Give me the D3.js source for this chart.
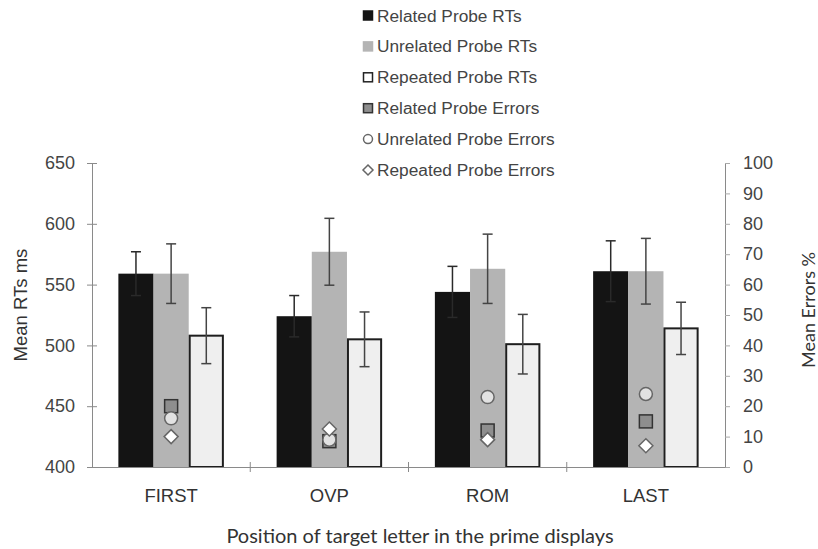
<!DOCTYPE html>
<html>
<head>
<meta charset="utf-8">
<script src="https://cdn.jsdelivr.net/npm/d3@7/dist/d3.min.js"></script>
<style>
  html, body { margin: 0; padding: 0; background: #fff; }
  svg { display: block; }
</style>
</head>
<body>
<svg id="chart" width="818" height="549"></svg>
<script>
// Mean reaction times (ms) with error bars, per target-letter position
const categories = ["FIRST", "OVP", "ROM", "LAST"];
const relatedRT = [559, 524, 544, 561];
const relatedRTErr = [18, 17, 21, 25];
const unrelatedRT = [559, 577, 563, 561];
const unrelatedRTErr = [24.5, 27.5, 28.5, 27];
const repeatedRT = [508, 505, 501, 514];
const repeatedRTErr = [23, 22.5, 24.5, 21.5];

// Mean error rates (%)
const relatedErrors = [20, 8.5, 12, 15];
const unrelatedErrors = [16, 9, 23, 24];
const repeatedErrors = [10, 12.5, 9, 7];

// Axis ticks
const rtTicks = [400, 450, 500, 550, 600, 650];
const errTicks = [0, 10, 20, 30, 40, 50, 60, 70, 80, 90, 100];

const legendLabels = [
  "Related Probe RTs", "Unrelated Probe RTs", "Repeated Probe RTs",
  "Related Probe Errors", "Unrelated Probe Errors", "Repeated Probe Errors"
];

const sans = "'Liberation Sans', Arial, sans-serif";
const humanist = "Lato, 'Open Sans', sans-serif";

const svg = d3.select("#chart");
const plotLeft = 92, plotRight = 725, plotTop = 163, plotBottom = 467;
const axisColor = "#8a8a8a";

const x = d3.scaleBand().domain(categories).range([plotLeft, plotRight]).padding(0);
const seriesKeys = ["related", "unrelated", "repeated"];
const xs = d3.scaleBand().domain(seriesKeys).range([0, x.bandwidth()])
  .paddingInner(0).paddingOuter(0.75);
const y = d3.scaleLinear().domain([400, 650]).range([plotBottom, plotTop]);
const yR = d3.scaleLinear().domain([0, 100]).range([plotBottom, plotTop]);

const rtSeries = [
  { key: "related", vals: relatedRT, errs: relatedRTErr, fill: "#141414" },
  { key: "unrelated", vals: unrelatedRT, errs: unrelatedRTErr, fill: "#b4b4b4" },
  { key: "repeated", vals: repeatedRT, errs: repeatedRTErr, fill: "#efefef", stroke: "#1e1e1e" }
];

// Bars
rtSeries.forEach(s => {
  const inset = s.stroke ? 1 : 0;
  svg.append("g").selectAll("rect").data(categories).join("rect")
    .attr("x", c => x(c) + xs(s.key) + inset)
    .attr("y", (c, i) => y(s.vals[i]))
    .attr("width", xs.bandwidth() - 2 * inset)
    .attr("height", (c, i) => plotBottom - y(s.vals[i]))
    .attr("fill", s.fill)
    .attr("stroke", s.stroke || "none")
    .attr("stroke-width", 2);
});

// Error bars
rtSeries.forEach(s => {
  const col = s.key === "related" ? "#2a2a2a" : "#444";
  const g = svg.append("g").attr("stroke", col).attr("stroke-width", 1.5);
  categories.forEach((c, i) => {
    const cx = x(c) + xs(s.key) + xs.bandwidth() / 2;
    const hi = y(s.vals[i] + s.errs[i]);
    const lo = y(s.vals[i] - s.errs[i]);
    g.append("line").attr("x1", cx).attr("x2", cx).attr("y1", hi).attr("y2", lo);
    g.append("line").attr("x1", cx - 5).attr("x2", cx + 5).attr("y1", hi).attr("y2", hi);
    g.append("line").attr("x1", cx - 5).attr("x2", cx + 5).attr("y1", lo).attr("y2", lo);
  });
});

// Left axis
const yAxis = d3.axisLeft(y).tickValues(rtTicks).tickSizeInner(5).tickSizeOuter(0).tickPadding(12);
const gy = svg.append("g").attr("transform", `translate(${plotLeft},0)`).call(yAxis);
gy.select(".domain").attr("stroke", axisColor);
gy.selectAll(".tick line").attr("stroke", axisColor).attr("x2", 5).attr("x1", -5);
gy.selectAll(".tick text").attr("font-size", 18).attr("fill", "#444").attr("font-family", sans);

// Right axis
const yAxisR = d3.axisRight(yR).tickValues(errTicks).tickSizeInner(5).tickSizeOuter(0).tickPadding(13);
const gyr = svg.append("g").attr("transform", `translate(${plotRight},0)`).call(yAxisR);
gyr.select(".domain").attr("stroke", axisColor);
gyr.selectAll(".tick line").attr("stroke", "#aaa");
gyr.selectAll(".tick text").attr("font-size", 18).attr("fill", "#444").attr("font-family", sans);

// Category axis
const xAxis = d3.axisBottom(x).tickSize(0).tickPadding(22);
const gx = svg.append("g").attr("transform", `translate(0,${plotBottom})`).call(xAxis);
gx.select(".domain").attr("stroke", axisColor);
gx.selectAll(".tick text").attr("font-size", 18.5).attr("fill", "#333").attr("font-family", sans);
// separators between categories
svg.append("g").selectAll("line").data(categories.slice(1)).join("line")
  .attr("x1", c => x(c)).attr("x2", c => x(c))
  .attr("y1", plotBottom - 5).attr("y2", plotBottom + 5)
  .attr("stroke", axisColor);

// Error-rate markers on the middle bar
const markerGroup = svg.append("g");
const midX = c => x(c) + xs("unrelated") + xs.bandwidth() / 2;
categories.forEach((c, i) => {
  const cx = midX(c);
  markerGroup.append("rect")
    .attr("x", cx - 6.5).attr("y", yR(relatedErrors[i]) - 6.5)
    .attr("width", 13).attr("height", 13)
    .attr("fill", "#8e8e8e").attr("stroke", "#333").attr("stroke-width", 1.5);
});
categories.forEach((c, i) => {
  markerGroup.append("circle")
    .attr("cx", midX(c)).attr("cy", yR(unrelatedErrors[i])).attr("r", 6.5)
    .attr("fill", "#e2e2e2").attr("stroke", "#666").attr("stroke-width", 1.5);
});
categories.forEach((c, i) => {
  const cx = midX(c);
  const cy = yR(repeatedErrors[i]);
  markerGroup.append("path")
    .attr("d", `M${cx},${cy - 7}L${cx + 7},${cy}L${cx},${cy + 7}L${cx - 7},${cy}Z`)
    .attr("fill", "#fff").attr("stroke", "#666").attr("stroke-width", 1.5);
});

// Axis titles
svg.append("text")
  .attr("transform", "translate(27,305) rotate(-90)")
  .attr("text-anchor", "middle").attr("font-size", 18.5).attr("fill", "#333")
  .attr("font-family", sans)
  .text("Mean RTs ms");
svg.append("text")
  .attr("transform", "translate(815,310) rotate(-90)")
  .attr("text-anchor", "middle").attr("font-size", 18).attr("fill", "#333")
  .attr("font-family", humanist)
  .text("Mean Errors %");
svg.append("text")
  .attr("x", 420).attr("y", 543)
  .attr("text-anchor", "middle").attr("font-size", 20).attr("fill", "#333")
  .attr("font-family", humanist)
  .text("Position of target letter in the prime displays");

// Legend
const legend = svg.append("g");
const ly0 = 15.5, lstep = 30.9, lx = 368;
legendLabels.forEach((label, i) => {
  const cy = ly0 + i * lstep;
  const g = legend.append("g");
  if (i < 4) {
    const fills = ["#141414", "#b4b4b4", "#fff", "#8e8e8e"];
    const strokes = ["#141414", "#b4b4b4", "#222", "#333"];
    g.append("rect").attr("x", lx - 4.5).attr("y", cy - 4.5)
      .attr("width", 9).attr("height", 9)
      .attr("fill", fills[i]).attr("stroke", strokes[i]).attr("stroke-width", 1.5);
  } else if (i === 4) {
    g.append("circle").attr("cx", lx).attr("cy", cy).attr("r", 4.5)
      .attr("fill", "#fff").attr("stroke", "#666").attr("stroke-width", 1.5);
  } else {
    g.append("path")
      .attr("d", `M${lx},${cy - 5}L${lx + 5},${cy}L${lx},${cy + 5}L${lx - 5},${cy}Z`)
      .attr("fill", "#fff").attr("stroke", "#666").attr("stroke-width", 1.5);
  }
  g.append("text").attr("x", lx + 9).attr("y", cy + 6)
    .attr("font-size", 17.3).attr("fill", "#444").attr("font-family", sans).text(label);
});
</script>
</body>
</html>
